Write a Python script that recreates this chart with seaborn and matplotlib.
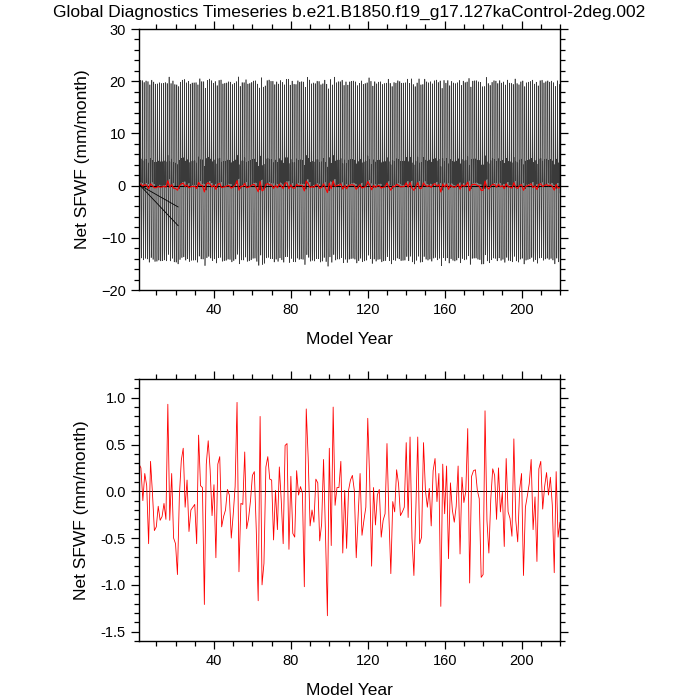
import matplotlib
matplotlib.use('Agg')

import matplotlib.pyplot as plt
import numpy as np
import pandas as pd
import seaborn as sns
from matplotlib.ticker import FormatStrFormatter, MultipleLocator

# annual mean net SFWF (mm/month), model years 1..220
years = np.arange(1, 221)
annual_sfwf = [
    0.29, 0.25, -0.10, 0.19, 0.06, -0.56, 0.32, -0.02, -0.42, -0.38,
    -0.16, -0.31, -0.27, -0.13, -0.30, 0.93, -0.31, 0.19, -0.50, -0.56,
    -0.89, -0.05, 0.33, 0.46, -0.17, 0.12, -0.43, -0.20, -0.17, -0.14,
    -0.56, 0.60, 0.06, 0.04, -1.21, 0.29, 0.54, 0.23, -0.26, 0.07,
    -0.71, 0.29, 0.37, -0.38, -0.27, -0.20, 0.02, -0.04, -0.50, -0.25,
    0.05, 0.95, -0.86, -0.13, -0.14, 0.42, -0.40, -0.29, -0.10, 0.17,
    0.21, -0.41, -1.17, 0.80, -1.00, -0.77, 0.26, 0.37, 0.13, 0.12,
    -0.52, 0.01, -0.41, 0.26, -0.10, -0.56, 0.49, 0.51, -0.62, 0.16,
    -0.45, -0.49, 0.22, -0.04, 0.05, -0.02, -1.02, 0.88, 0.36, -0.37,
    -0.20, -0.33, 0.13, 0.09, -0.53, -0.35, 0.34, -0.45, -1.33, 0.46,
    -0.58, 0.90, -0.15, 0.04, 0.04, 0.32, -0.66, 0.01, -0.61, 0.01,
    0.12, 0.17, 0.01, -0.71, -0.27, 0.19, -0.47, -0.31, -0.17, 0.78,
    0.12, -0.80, 0.04, -0.36, -0.04, 0.02, -0.49, -0.31, -0.24, 0.51,
    -0.27, -0.88, -0.11, -0.22, 0.23, 0.08, -0.26, -0.22, -0.17, 0.52,
    -0.28, 0.58, -0.50, -0.90, -0.20, 0.58, -0.56, -0.49, 0.52, 0.01,
    -0.17, 0.03, -0.37, 0.22, 0.35, -0.11, 0.19, -1.23, 0.29, -0.24,
    0.27, -0.72, 0.09, -0.20, -0.33, -0.16, 0.27, -0.67, 0.15, -0.12,
    0.00, 0.67, -0.98, 0.16, 0.22, 0.23, 0.01, -0.08, -0.92, -0.89,
    0.86, -0.31, -0.66, -0.08, 0.24, 0.17, -0.30, 0.25, -0.22, -0.01,
    -0.59, 0.35, -0.22, -0.29, -0.48, 0.56, -0.31, -0.54, 0.02, 0.19,
    -0.90, -0.17, -0.05, 0.08, 0.34, -0.41, -0.06, -0.75, 0.24, 0.32,
    -0.19, 0.05, 0.20, -0.04, 0.15, -0.15, -0.87, 0.21, -0.49, -0.33,
]

# mean seasonal cycle (mm/month), Jan..Dec
month_clim = [5.0, -1.0, -6.0, -10.0, -14.0, -12.0, -4.0, 8.0, 20.0, 12.0, 3.0, 0.5]

# stray segments near the start of the monthly panel
stray_x = [1.5, 21.4]
stray_y1 = [0.06, -4.1]
stray_y2 = [0.06, -7.7]

title = 'Global Diagnostics Timeseries b.e21.B1850.f19_g17.127kaControl-2deg.002'
ylabel = 'Net SFWF (mm/month)'
xlabel = 'Model Year'

# monthly series: seasonal cycle around each annual mean
clim = np.array(month_clim) - np.mean(month_clim)
annual = np.array(annual_sfwf)
monthly_df = pd.DataFrame({
    'year': (years[:, None] + np.arange(12)[None, :] / 12.0).ravel(),
    'sfwf': (annual[:, None] + clim[None, :]).ravel(),
})
annual_df = pd.DataFrame({'year': years, 'sfwf': annual})

sns.set_style('ticks')
plt.rcParams['font.family'] = ['Liberation Sans', 'DejaVu Sans']
plt.rcParams.update({
    'text.color': 'black', 'axes.labelcolor': 'black',
    'xtick.color': 'black', 'ytick.color': 'black', 'axes.edgecolor': 'black',
})

fig = plt.figure(figsize=(7, 7), dpi=100)
ax1 = fig.add_axes([139 / 700, 1 - 290 / 700, 421 / 700, 261 / 700])
ax2 = fig.add_axes([139 / 700, 1 - 641 / 700, 421 / 700, 262 / 700])

sns.lineplot(data=monthly_df, x='year', y='sfwf', ax=ax1, color='#3a3a3a',
             linewidth=0.45, estimator=None, sort=False)
ax1.plot(stray_x, stray_y1, color='black', linewidth=0.6)
ax1.plot(stray_x, stray_y2, color='black', linewidth=0.6)
ax1.axhline(0, color='black', linewidth=0.8)
sns.lineplot(data=annual_df, x='year', y='sfwf', ax=ax1, color='red',
             linewidth=0.8, estimator=None)
ax1.set_ylim(-20, 30)
ax1.yaxis.set_major_locator(MultipleLocator(10))
ax1.yaxis.set_minor_locator(MultipleLocator(2))
ax1.set_title(title, fontsize=12.5, pad=9)

ax2.axhline(0, color='black', linewidth=0.7)
sns.lineplot(data=annual_df, x='year', y='sfwf', ax=ax2, color='red',
             linewidth=0.6, estimator=None)
ax2.set_ylim(-1.6, 1.2)
ax2.yaxis.set_major_locator(MultipleLocator(0.5))
ax2.yaxis.set_minor_locator(MultipleLocator(0.1))
ax2.yaxis.set_major_formatter(FormatStrFormatter('%.1f'))

for ax in (ax1, ax2):
    ax.set_xlim(1, 220)
    ax.set_xticks([40, 80, 120, 160, 200])
    ax.xaxis.set_minor_locator(MultipleLocator(10))
    ax.tick_params(which='both', direction='out', top=True, right=True,
                   labelsize=10.5, width=0.9)
    ax.tick_params(which='major', length=6)
    ax.tick_params(which='minor', length=3.5)
    for side in ax.spines.values():
        side.set_linewidth(1.0)
        side.set_visible(True)
    ax.set_xlabel(xlabel, fontsize=12.5, labelpad=11)
    ax.set_ylabel(ylabel, fontsize=12.5, labelpad=8)

fig.savefig('out.png', dpi=100)
plt.close(fig)
